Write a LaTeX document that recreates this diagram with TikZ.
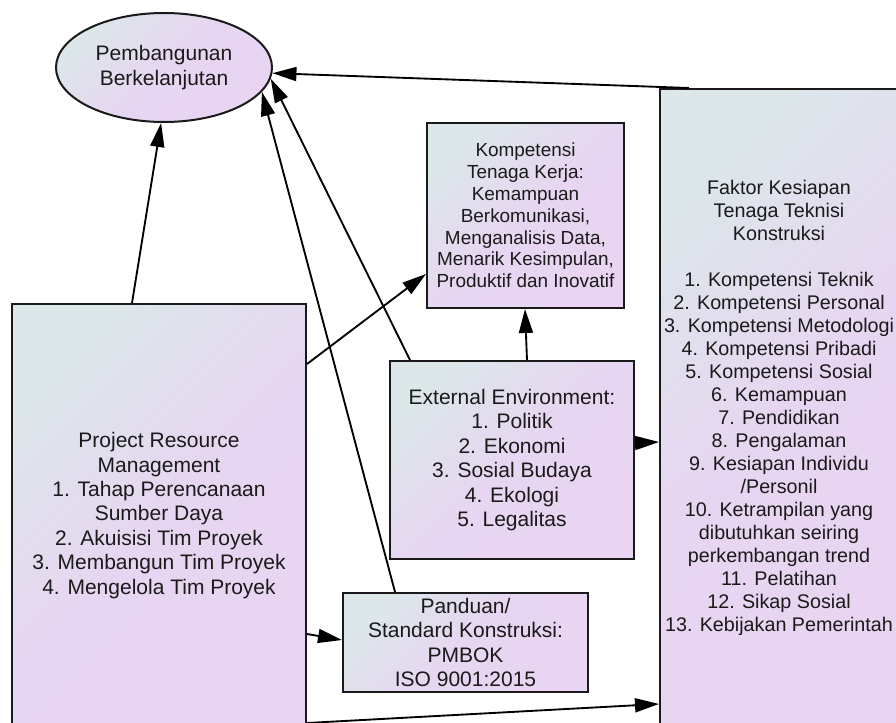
\documentclass[tikz,border=0pt]{standalone}
\usepackage{fontspec}
\setmainfont{Liberation Sans}
\usetikzlibrary{arrows.meta,calc,shapes.geometric}
\definecolor{shadeA}{RGB}{220,231,234}
\definecolor{shadeM}{RGB}{231,214,241}
\definecolor{shadeB}{RGB}{233,212,242}
\definecolor{ink}{RGB}{26,26,26}
\def\pxl#1{#1*0.75pt}
\begin{document}
\begin{tikzpicture}[x=0.75pt,y=-0.75pt,
  panel/.style={draw=ink, line width=1.5pt, top color=shadeA, bottom color=shadeB,
    middle color=shadeM, shading angle=45, inner sep=0pt, align=center, text=ink},
  bigtext/.style={font=\fontsize{15.75pt}{18.3pt}\selectfont},
  midtext/.style={font=\fontsize{14.8pt}{17.25pt}\selectfont},
  smalltext/.style={font=\fontsize{14.2pt}{16.35pt}\selectfont},
  link/.style={draw=black, line width=1.4pt, -{Triangle[length=18pt,width=10.5pt]}}
]
\useasboundingbox (0,0) rectangle (896,723);

% goal
\node[panel, ellipse, bigtext, minimum width=\pxl{216}, minimum height=\pxl{109}]
  (ell) at (164,67.5) {Pembangunan\\Berkelanjutan};

% resource management
\node[panel, bigtext, minimum width=\pxl{294}, minimum height=\pxl{423}]
  (prm) at (159,515.5) {Project Resource\\Management\\1. Tahap Perencanaan\\Sumber Daya\\2. Akuisisi Tim Proyek\\3. Membangun Tim Proyek\\4. Mengelola Tim Proyek};

% workforce competence
\node[panel, smalltext, minimum width=\pxl{197}, minimum height=\pxl{185}]
  (kom) at (525.5,215.5) {Kompetensi\\Tenaga Kerja:\\Kemampuan\\Berkomunikasi,\\Menganalisis Data,\\Menarik Kesimpulan,\\Produktif dan Inovatif};

% external environment
\node[panel, bigtext, minimum width=\pxl{244}, minimum height=\pxl{198}]
  (ext) at (512,460) {External Environment:\\1. Politik\\2. Ekonomi\\3. Sosial Budaya\\4. Ekologi\\5. Legalitas};

% standards
\node[panel, bigtext, minimum width=\pxl{245}, minimum height=\pxl{99}]
  (pan) at (465.5,642.5) {Panduan/\\Standard Konstruksi:\\PMBOK\\ISO 9001:2015};

% readiness factors
\node[panel, midtext, minimum width=\pxl{238}, minimum height=\pxl{637}]
  (fak) at (779,407.5) {Faktor Kesiapan\\Tenaga Teknisi\\Konstruksi\\\mbox{}\\1. Kompetensi Teknik\\2. Kompetensi Personal\\3. Kompetensi Metodologi\\4. Kompetensi Pribadi\\5. Kompetensi Sosial\\6. Kemampuan\\7. Pendidikan\\8. Pengalaman\\9. Kesiapan Individu\\/Personil\\10. Ketrampilan yang\\dibutuhkan seiring\\perkembangan trend\\11. Pelatihan\\12. Sikap Sosial\\13. Kebijakan Pemerintah};

% connectors
\draw[link] ($(prm.north west)+(121,0)$) -- (ell.-93);
\draw[link] ($(pan.north west)+(53,0)$) -- (ell.-14);
\draw[link] ($(ext.north west)+(21,0)$) -- (ell.-6);
\draw[link] ($(fak.north west)+(30,0)$) -- (ell.-3);
\draw[link] ($(prm.north east)+(0,61)$) -- ($(kom.north west)+(0,152)$);
\draw[link] ($(ext.north west)+(138,0)$) -- ($(kom.south west)+(99,0)$);
\draw[link] ($(ext.east)+(0,-17)$) -- ($(fak.north west)+(0,354)$);
\draw[link] ($(prm.north east)+(0,331)$) -- ($(pan.west)+(0,-2.5)$);
\draw[link] ($(prm.north east)+(0,420)$) -- ($(fak.north west)+(0,616)$);
\end{tikzpicture}
\end{document}
